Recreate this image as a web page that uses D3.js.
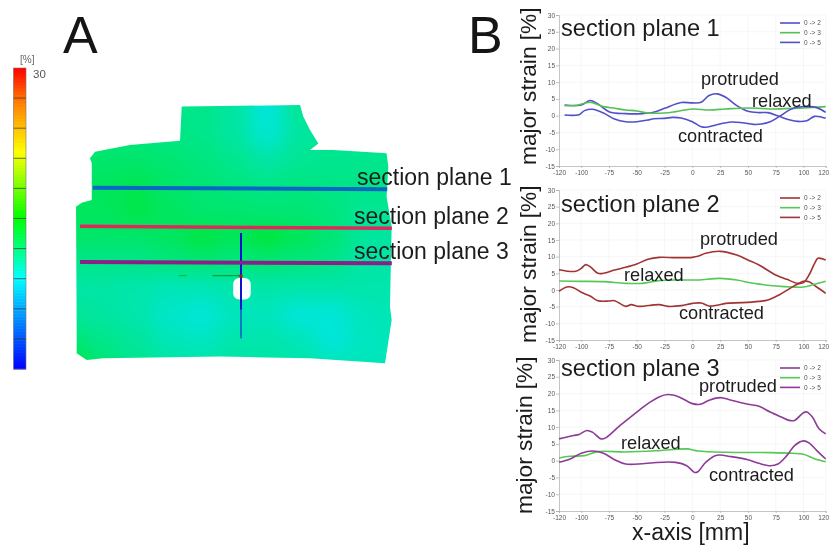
<!DOCTYPE html>
<html>
<head>
<meta charset="utf-8">
<script src="https://cdn.jsdelivr.net/npm/d3@7"></script>
<style>
  html, body { margin: 0; background: #fff; }
  svg { display: block; filter: blur(0.45px); font-family: "Liberation Sans", Arial, sans-serif; }
</style>
</head>
<body>
<div id="chart"></div>
<script>
// [x mm, major strain %]
const plane1Protruded = [[-115,3.2],[-100,3.2],[-92,4.5],[-85,3.5],[-75,1.2],[-60,0.6],[-45,0.6],[-35,1],[-25,2.2],[-10,3.9],[0,3.8],[8,4],[15,6],[22,6.5],[30,5.5],[40,3],[50,1.3],[60,0.9],[68,0.9],[78,-0.2],[88,-1.3],[95,-1.7],[103,-1.5],[110,-0.2],[120,-0.8]];
const plane1Relaxed = [[-115,3],[-105,3],[-92,4],[-80,2.7],[-70,2.2],[-60,1.7],[-50,1.4],[-40,0.8],[-25,0.8],[-15,1.2],[0,2],[15,1.7],[30,2],[50,2.3],[75,2],[100,2.3],[120,2.7]];
const plane1Contracted = [[-115,0.2],[-102,0.3],[-97,1.5],[-90,1.9],[-80,0.8],[-70,-1],[-60,-1.8],[-50,-1.8],[-40,-1.3],[-35,-0.9],[-25,-0.8],[-18,-0.5],[-10,-0.7],[0,-1.8],[8,-3.3],[14,-3.4],[22,-2.7],[35,-1.9],[45,-2.1],[55,-2.6],[62,-2.5],[70,-1.8],[78,-0.3],[88,1.8],[95,2.6],[105,2.7],[112,2.4],[120,1]];

const plane2Protruded = [[-120,6.1],[-105,5.6],[-100,6.5],[-96,7.6],[-92,7],[-85,5],[-80,5],[-70,6],[-60,6.8],[-50,7.8],[-40,9.2],[-30,9.8],[-15,9.7],[0,9.8],[5,10.1],[12,11],[25,11.6],[40,10.5],[50,9],[60,7.5],[75,4.5],[85,3.2],[95,2],[100,2.6],[105,2.5],[112,0.9],[120,-1]];
const plane2Relaxed = [[-120,2.7],[-100,2.6],[-80,2.5],[-60,2],[-45,2],[-30,2.8],[-10,3],[5,3],[25,3.5],[40,3],[55,2],[75,1.2],[90,0.9],[100,0.9],[110,1.7],[120,2.6]];
const plane2Contracted = [[-120,-0.4],[-113,0.9],[-107,0.7],[-100,-0.7],[-92,-1.8],[-85,-3.2],[-75,-3.3],[-70,-3.2],[-60,-4.9],[-55,-4.4],[-48,-4.9],[-30,-4.4],[-22,-4.9],[-10,-4.7],[0,-4],[8,-3.9],[15,-4.8],[22,-4.6],[30,-4],[45,-3.8],[60,-3.4],[68,-3],[78,-1.5],[88,0.5],[95,1.8],[100,2.2],[105,4.5],[110,8],[113,9.5],[120,9]];

const plane3Protruded = [[-120,6.5],[-107,7.5],[-102,7.8],[-95,9],[-90,8.5],[-82,6.5],[-78,6.8],[-65,10.5],[-50,14.5],[-40,17],[-30,19],[-22,19.7],[-12,19],[0,17],[7,16.8],[15,18],[25,18.8],[35,18],[50,16.8],[60,16.2],[70,14.5],[80,13],[87,12],[92,12],[100,14.3],[103,14.5],[108,13],[114,9.5],[120,8]];
const plane3Relaxed = [[-120,0.8],[-110,1.3],[-97,1.5],[-85,2.7],[-60,2.6],[-30,3],[-5,3.5],[5,2.9],[30,2.5],[70,2.4],[90,2.2],[100,1.9],[110,0.6],[120,-0.3]];
const plane3Contracted = [[-120,-0.5],[-110,0.5],[-100,2.2],[-90,2.9],[-80,2.2],[-70,0.3],[-60,-1],[-45,-0.9],[-35,-0.6],[-15,-0.5],[-5,-1.5],[2,-3.5],[5,-3.3],[12,-0.5],[22,1.6],[35,1.2],[50,0.3],[60,-0.8],[70,-1.5],[77,-1],[85,1.5],[92,4.5],[100,5.9],[105,5.3],[112,3],[120,0.5]];

const xTicks = [-120,-100,-75,-50,-25,0,25,50,75,100,120];
const yTicks = [-15,-10,-5,0,5,10,15,20,25,30];
const legendLabels = ['0 -> 2','0 -> 3','0 -> 5'];

// strain map, coarse grid in mm
const gridX = [-130,-105,-80,-55,-30,-5,20,45,70,95,120];
const gridY = [130,110,90,70,50,30,10,-10,-30,-50,-70];
const gridValues = [
  [-1,-1,-1,-1,-1,-2,-4.5,-1.5,-1,-1,-1],
  [-0.5,-0.5,-0.5,-0.8,-1,-2,-4,-2,-1.2,-1.2,-1.2],
  [0.3,0.3,0.3,0,-0.5,-1.2,-2.2,-1.5,-1.2,-1.2,-1.2],
  [0.5,1,1.5,0.5,0,-0.5,-0.8,-0.6,-0.8,-0.8,-0.8],
  [1,1,1.8,0.8,0.2,0.2,0,0,-0.5,-1.5,-1.5],
  [0.5,0.5,0.5,1,2.2,1.2,2.6,1.2,0,-1.8,-2],
  [-1,-1,-1,-0.5,0,-0.5,0,-0.5,-1,-2.2,-2.2],
  [-2.2,-2.2,-2.5,-3,-3,-2.5,-2.4,-2.5,-2.5,-2.5,-2.5],
  [-1.5,-2,-2.5,-3.8,-4.4,-3.2,-3.2,-4.4,-4.4,-3.2,-2.8],
  [0,-1,-1.8,-3,-3.4,-2.5,-2.5,-3,-4.4,-3.4,-3],
  [3,0,-1.2,-1.8,-1.8,-2,-2,-2.2,-2.8,-3,-3]
];
const outlineX = [-45.6,45.4,47.9,53.1,59.5,53.1,71,112,113.3,112,115.9,114.6,115.9,110.8,53.1,-16.2,-105.9,-118.7,-126.4,-126.4,-126.9,-122.5,-114.8,-114.8,-116.2,-112.3,-85.4,-46.9];
const outlineY = [130.3,131.5,122.6,112.3,102,96.9,96.9,94.4,84.1,61,38,-23.6,-33.8,-67.2,-63.3,-62,-63.3,-64.6,-59.5,-44.1,53.3,56.4,58.5,86.7,90.5,95.6,100.8,104.1];
const sectionNames = ['section plane 1','section plane 2','section plane 3'];
const sectionX = [[-114,112.5],[-123.8,116],[-123.8,116]];
const sectionY = [[67.9,66.7],[38.2,36.7],[10.8,9.8]];
const sectionColors = ['#0a68c4','#e0285c','#8a2088'];

const colorStops = [-20,-5,5,16,24,30];
const colorValues = ['#0000ff','#00ffff','#00ff00','#ffff00','#ff8000','#ff0000'];
const barTicks = [-15,-10,-5,0,5,10,15,20,25];

const width = 830, height = 545;
const svg = d3.select('#chart').append('svg').attr('width', width).attr('height', height);
const color = d3.scaleLinear().domain(colorStops).range(colorValues);

// ---- colour bar
const barY = d3.scaleLinear().domain([-20, 30]).range([369, 68]);
const bar = svg.append('g');
bar.selectAll('rect.step')
  .data(d3.range(-20, 30, 0.25))
  .enter().append('rect')
  .attr('class', 'step')
  .attr('x', 13.5).attr('width', 12.5)
  .attr('y', d => barY(d + 0.25))
  .attr('height', d => barY(d) - barY(d + 0.25) + 0.5)
  .attr('fill', d => color(d));
bar.selectAll('line')
  .data(barTicks)
  .enter().append('line')
  .attr('x1', 13.5).attr('x2', 26)
  .attr('y1', d => barY(d)).attr('y2', d => barY(d))
  .attr('stroke', '#333').attr('stroke-opacity', 0.7);
bar.append('rect').attr('x', 13.5).attr('y', 68).attr('width', 12.5).attr('height', 301)
  .attr('fill', 'none').attr('stroke', '#777').attr('stroke-width', 0.6);
svg.append('text').attr('x', 20).attr('y', 63).attr('font-size', 10).attr('fill', '#666').text('[%]');
svg.append('text').attr('x', 33).attr('y', 78).attr('font-size', 11.5).attr('fill', '#555').text('30');

// ---- strain map, 1.3 px per mm around the hole
const mapX = d3.scaleLinear().domain([-120, 120]).range([85, 397]);
const mapY = d3.scaleLinear().domain([0, 100]).range([276, 146]);

const defs = svg.append('defs');
defs.append('clipPath').attr('id', 'outline').append('path')
  .attr('d', d3.line().x(i => mapX(outlineX[i])).y(i => mapY(outlineY[i])).curve(d3.curveLinearClosed)(d3.range(outlineX.length)));
const blur = defs.append('filter').attr('id', 'smooth').attr('filterUnits', 'userSpaceOnUse')
  .attr('x', 0).attr('y', 60).attr('width', 460).attr('height', 380);
blur.append('feGaussianBlur').attr('stdDeviation', 9);

const map = svg.append('g').attr('clip-path', 'url(#outline)').style('filter', 'brightness(0.9)');
map.append('rect').attr('x', 60).attr('y', 90).attr('width', 350).attr('height', 290).attr('fill', color(-1));
const cells = gridValues.flatMap((row, j) => row.map((v, i) => ({ x: gridX[i], y: gridY[j], v })));
map.append('g').attr('filter', 'url(#smooth)')
  .selectAll('rect')
  .data(cells)
  .enter().append('rect')
  .attr('x', d => mapX(d.x - 12.5))
  .attr('y', d => mapY(d.y + 10))
  .attr('width', mapX(25) - mapX(0) + 0.5)
  .attr('height', mapY(0) - mapY(20) + 0.5)
  .attr('fill', d => color(d.v));

// hole and local axes
svg.append('rect')
  .attr('x', mapX(-6)).attr('y', mapY(0))
  .attr('width', mapX(7.5) - mapX(-6)).attr('height', mapY(0) - mapY(16.5)).attr('transform', 'translate(0,2)')
  .attr('rx', 6).attr('fill', '#fff');
svg.append('line')
  .attr('x1', mapX(-48)).attr('x2', mapX(-42)).attr('y1', mapY(0.3)).attr('y2', mapY(0.3))
  .attr('stroke', '#10c030').attr('stroke-width', 1.3);
svg.append('line')
  .attr('x1', mapX(-22)).attr('x2', mapX(0)).attr('y1', mapY(0.3)).attr('y2', mapY(0.3))
  .attr('stroke', '#10a030').attr('stroke-width', 1.3);
svg.append('line')
  .attr('x1', mapX(0)).attr('x2', mapX(0)).attr('y1', mapY(33)).attr('y2', mapY(-26))
  .attr('stroke', '#1010d0').attr('stroke-width', 2);
svg.append('line')
  .attr('x1', mapX(0)).attr('x2', mapX(0)).attr('y1', mapY(-26)).attr('y2', mapY(-48))
  .attr('stroke', '#1010d0').attr('stroke-width', 1);
svg.append('circle').attr('cx', mapX(0)).attr('cy', mapY(0)).attr('r', 1.8).attr('fill', '#b01818');

// section planes
sectionNames.forEach((name, i) => {
  svg.append('line')
    .attr('x1', mapX(sectionX[i][0])).attr('x2', mapX(sectionX[i][1]))
    .attr('y1', mapY(sectionY[i][0])).attr('y2', mapY(sectionY[i][1]))
    .attr('stroke', sectionColors[i]).attr('stroke-width', i === 1 ? 3.5 : 4);
});
const labelAt = [[357, 185], [354, 224], [354, 259]];
sectionNames.forEach((name, i) => {
  svg.append('text').attr('x', labelAt[i][0]).attr('y', labelAt[i][1])
    .attr('font-size', 23).attr('fill', '#1c1c1c').text(name);
});

svg.append('text').attr('x', 63).attr('y', 53).attr('font-size', 52).attr('fill', '#151515').text('A');
svg.append('text').attr('x', 468).attr('y', 53).attr('font-size', 52).attr('fill', '#151515').text('B');

// ---- line panels
const x = d3.scaleLinear().domain([-120, 120]).range([559, 825.7]);
const line = d3.line().curve(d3.curveCatmullRom.alpha(0.5));

function drawPanel(opts) {
  const y = d3.scaleLinear().domain([-15, 30]).range([opts.bottom, opts.top]);
  const g = svg.append('g');

  g.append('g').selectAll('line')
    .data(xTicks.filter(d => d > -120))
    .enter().append('line')
    .attr('x1', d => x(d)).attr('x2', d => x(d))
    .attr('y1', opts.top).attr('y2', opts.bottom)
    .attr('stroke', '#f2f2f2').attr('stroke-width', 0.7);
  g.append('g').selectAll('line')
    .data(yTicks.filter(d => d > -15))
    .enter().append('line')
    .attr('x1', 559).attr('x2', 825.7)
    .attr('y1', d => y(d)).attr('y2', d => y(d))
    .attr('stroke', '#f2f2f2').attr('stroke-width', 0.7);

  const axisX = g.append('g').attr('transform', `translate(0,${opts.bottom})`)
    .call(d3.axisBottom(x).tickValues(xTicks).tickFormat(d => String(d)).tickSize(2).tickPadding(2));
  const axisY = g.append('g').attr('transform', 'translate(559,0)')
    .call(d3.axisLeft(y).tickValues(yTicks).tickFormat(d => String(d)).tickSize(3).tickPadding(1));
  [axisX, axisY].forEach(a => {
    a.selectAll('text').style('fill', '#555').style('font-size', '6.5px').style('font-family', '"Liberation Sans", Arial, sans-serif');
    a.selectAll('.domain, .tick line').style('stroke', '#aaa').style('stroke-width', 0.7);
  });
  // last label would run off the page
  axisX.selectAll('.tick text').filter(d => d === 120).attr('dx', -2.5);

  opts.series.forEach((s, i) => {
    g.append('path')
      .attr('fill', 'none')
      .attr('stroke', i === 1 ? opts.green : opts.stroke)
      .attr('stroke-width', 1.6)
      .attr('d', line(s.map(d => [x(d[0]), y(d[1])])));
  });

  // legend
  legendLabels.forEach((label, i) => {
    const ly = opts.legendTop + i * 9.7;
    g.append('line').attr('x1', 780).attr('x2', 800).attr('y1', ly).attr('y2', ly)
      .attr('stroke', i === 1 ? opts.green : opts.stroke).attr('stroke-width', 1.6);
    g.append('text').attr('x', 804).attr('y', ly + 2.3).attr('font-size', 6.5).attr('fill', '#555').text(label);
  });

  g.append('text').attr('x', 561).attr('y', opts.titleY).attr('font-size', 23.6).attr('fill', '#1c1c1c').text(opts.title);
  opts.notes.forEach(n => {
    g.append('text').attr('x', n[1]).attr('y', n[2]).attr('font-size', 18.2).attr('fill', '#1c1c1c').text(n[0]);
  });
  g.append('text')
    .attr('transform', `translate(${opts.labelX},${opts.labelBottom}) rotate(-90)`)
    .attr('font-size', 22.7).attr('fill', '#1c1c1c').text('major strain [%]');
}

drawPanel({
  top: 15, bottom: 166, legendTop: 23, titleY: 36, title: 'section plane 1',
  stroke: '#5050c8', green: '#55c055', labelX: 536, labelBottom: 165,
  series: [plane1Protruded, plane1Relaxed, plane1Contracted],
  notes: [['protruded', 701, 85], ['relaxed', 752, 107], ['contracted', 678, 142]]
});
drawPanel({
  top: 190, bottom: 340, legendTop: 198, titleY: 212, title: 'section plane 2',
  stroke: '#a03434', green: '#55c855', labelX: 536, labelBottom: 343,
  series: [plane2Protruded, plane2Relaxed, plane2Contracted],
  notes: [['protruded', 700, 245], ['relaxed', 624, 281], ['contracted', 679, 319]]
});
drawPanel({
  top: 360, bottom: 511, legendTop: 368, titleY: 376, title: 'section plane 3',
  stroke: '#8c3c96', green: '#55c855', labelX: 532, labelBottom: 514,
  series: [plane3Protruded, plane3Relaxed, plane3Contracted],
  notes: [['protruded', 699, 392], ['relaxed', 621, 449], ['contracted', 709, 481]]
});

svg.append('text').attr('x', 632).attr('y', 540).attr('font-size', 23).attr('fill', '#1c1c1c').text('x-axis [mm]');
</script>
</body>
</html>
